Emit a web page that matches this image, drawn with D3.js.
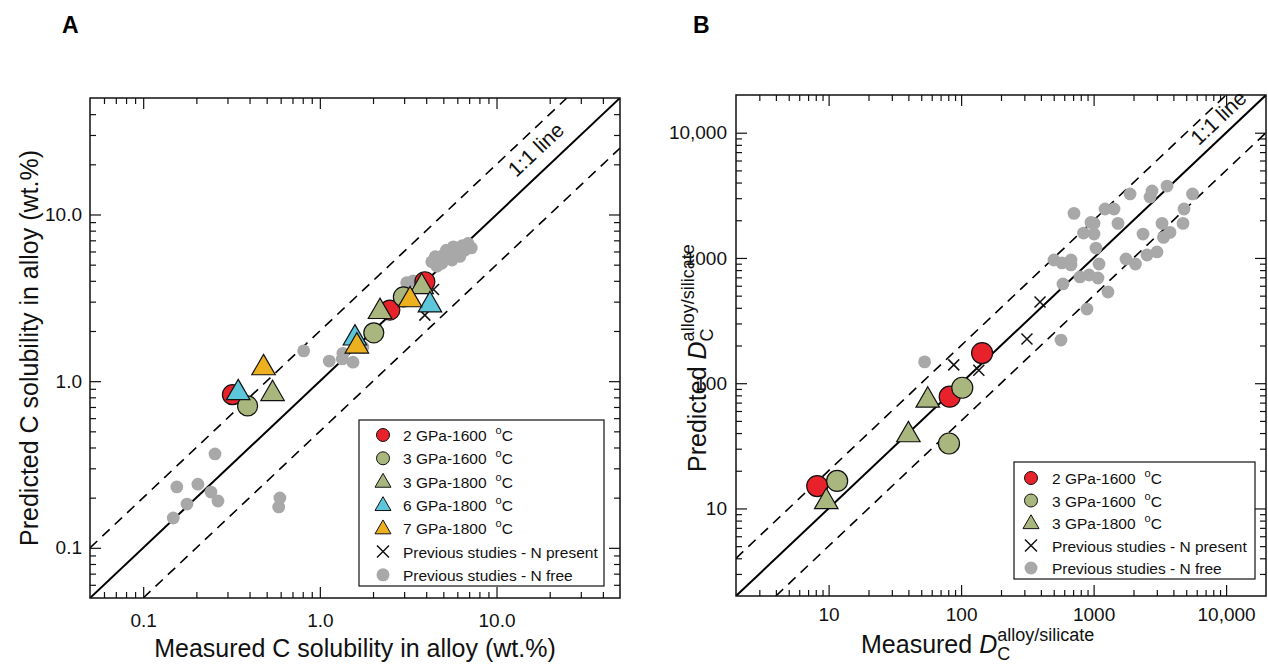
<!DOCTYPE html>
<html><head><meta charset="utf-8">
<script src="https://cdn.jsdelivr.net/npm/d3@7"></script>
<style>
body{margin:0;background:#fff;}
svg{display:block;font-family:"Liberation Sans",Arial,Helvetica,sans-serif;}
</style>
</head><body>
<svg id="chart" width="1268" height="671"></svg>
<script>
// ---------- Panel A: C solubility in alloy (wt.%) [measured, predicted] ----------
const aGpa2T1600 = [[0.32,0.83],[2.49,2.67],[3.93,3.95]];
const aGpa3T1600 = [[0.39,0.71],[2.02,1.95],[2.97,3.2]];
const aGpa3T1800 = [[0.54,0.84],[2.19,2.61],[3.77,3.68]];
const aGpa6T1800 = [[0.345,0.85],[1.58,1.81],[4.2,2.86]];
const aGpa7T1800 = [[0.48,1.2],[1.62,1.62],[3.24,3.07]];
const aPrevNPresent = [[3.93,2.49],[4.4,3.55]];
const aPrevNFree = [
  [0.255,0.366],[0.155,0.232],[0.204,0.241],[0.177,0.183],[0.242,0.216],[0.265,0.191],
  [0.148,0.151],[0.594,0.199],[0.585,0.176],
  [0.81,1.52],[1.13,1.32],[1.35,1.47],[1.34,1.36],[1.54,1.30],[1.75,1.6],
  [3.38,4.0],[3.1,3.9],[4.3,5.2],[4.5,5.58],[5.0,5.7],[5.7,6.4],[6.9,6.7],[7.2,6.3],
  [6.2,5.6],[5.6,5.33],[4.9,5.1],[6.6,6.1],[5.2,6.1],[4.6,4.9],[5.4,5.9],[6.4,6.5],[4.8,5.3]
];
const aTickValues = [0.1, 1, 10];
const aTickLabels = ["0.1", "1.0", "10.0"];
const aDomain = [0.05, 50];

// ---------- Panel B: D_C alloy/silicate [measured, predicted] ----------
const bGpa2T1600 = [[8.2,15.1],[82,78],[144,174]];
const bGpa3T1600 = [[11.6,16.6],[102,92],[81,33]];
const bGpa3T1800 = [[9.6,11.3],[40,38.6],[56,73]];
const bPrevNPresent = [[88,140],[136,127],[314,225],[394,445]];
const bPrevNFree = [
  [53,148],[567,221],[891,391],[711,2270],[502,963],[577,912],[675,963],[675,879],[587,620],
  [789,705],[923,731],[1079,692],[1099,895],[1042,1200],[839,1581],[1007,1552],[955,1923],
  [1007,1888],[1219,2460],[1426,2460],[1528,1888],[1284,535],[1755,981],[2070,895],[1884,3243],
  [2360,1552],[2530,1056],[3008,1117],[2666,3069],[2760,3428],[3581,3750],[3283,1888],[3367,1460],
  [3770,1600],[4728,1888],[4810,2460],[5575,3243]
];
const bTickValues = [10, 100, 1000, 10000];
const bTickLabels = ["10", "100", "1000", "10,000"];
const bDomain = [2, 20000];

// ---------- legends ----------
const aLegendLabels = ["2 GPa-1600", "3 GPa-1600", "3 GPa-1800", "6 GPa-1800", "7 GPa-1800",
  "Previous studies - N present", "Previous studies - N free"];
const bLegendLabels = ["2 GPa-1600", "3 GPa-1600", "3 GPa-1800",
  "Previous studies - N present", "Previous studies - N free"];

const COL = {red:"#E8222A", green:"#A9B77E", cyan:"#5DC6DA", orange:"#EDB01F", gray:"#A8A8A8"};

const svg = d3.select("#chart");

function triPath(s){ const h = s*Math.sqrt(3)/2; return `M0,${-2*h/3}L${s/2},${h/3}L${-s/2},${h/3}Z`; }
function xPath(s){ const a=s/2; return `M${-a},${-a}L${a},${a}M${-a},${a}L${a},${-a}`; }

function isMajor(v){ const l=Math.log10(v); return Math.abs(l-Math.round(l))<1e-6; }

function panel(o){
  const x = d3.scaleLog().domain(o.domain).range([o.left, o.right]);
  const y = d3.scaleLog().domain(o.domain).range([o.bottom, o.top]);
  const g = svg.append("g");
  const clipId = "clip"+o.id;
  g.append("clipPath").attr("id",clipId).append("rect")
    .attr("x",o.left).attr("y",o.top).attr("width",o.right-o.left).attr("height",o.bottom-o.top);

  const minors = x.ticks().filter(v=>!isMajor(v) && v>o.domain[0]*1.0001 && v<o.domain[1]*0.9999);
  const MAJ = 11, MIN = 6;
  function styleAxis(sel){
    sel.select(".domain").remove();
    sel.attr("font-size",null).attr("font-family",null);
    sel.selectAll("line").attr("stroke","#111").attr("stroke-width",1.2);
    sel.selectAll("text").attr("font-size",o.tickFont).attr("fill","#111");
  }
  const fmt = (d)=>o.labels[o.ticks.indexOf(d)];
  g.append("g").attr("transform",`translate(0,${o.bottom})`)
    .call(d3.axisBottom(x).tickValues(o.ticks).tickFormat(fmt).tickSize(-MAJ).tickPadding(o.xPad)).call(styleAxis);
  g.append("g").attr("transform",`translate(0,${o.bottom})`)
    .call(d3.axisBottom(x).tickValues(minors).tickFormat("").tickSize(-MIN)).call(styleAxis);
  g.append("g").attr("transform",`translate(0,${o.top})`)
    .call(d3.axisTop(x).tickValues(o.ticks).tickFormat("").tickSize(-MAJ)).call(styleAxis);
  g.append("g").attr("transform",`translate(0,${o.top})`)
    .call(d3.axisTop(x).tickValues(minors).tickFormat("").tickSize(-MIN)).call(styleAxis);
  g.append("g").attr("transform",`translate(${o.left},0)`)
    .call(d3.axisLeft(y).tickValues(o.ticks).tickFormat(fmt).tickSize(-MAJ).tickPadding(o.yPad)).call(styleAxis);
  g.append("g").attr("transform",`translate(${o.left},0)`)
    .call(d3.axisLeft(y).tickValues(minors).tickFormat("").tickSize(-MIN)).call(styleAxis);
  g.append("g").attr("transform",`translate(${o.right},0)`)
    .call(d3.axisRight(y).tickValues(o.ticks).tickFormat("").tickSize(-MAJ)).call(styleAxis);
  g.append("g").attr("transform",`translate(${o.right},0)`)
    .call(d3.axisRight(y).tickValues(minors).tickFormat("").tickSize(-MIN)).call(styleAxis);

  const [d0,d1] = o.domain;
  const lines = g.append("g").attr("clip-path",`url(#${clipId})`);
  const ln = d3.line().x(d=>x(d[0])).y(d=>y(d[1]));
  lines.append("path").attr("d",ln([[d0,d0],[d1,d1]])).attr("stroke","#000").attr("stroke-width",2).attr("fill","none");
  lines.append("path").attr("d",ln([[d0,2*d0],[d1/2,d1]])).attr("stroke","#000").attr("stroke-width",1.6)
    .attr("stroke-dasharray","10,7").attr("fill","none");
  lines.append("path").attr("d",ln([[2*d0,d0],[d1,d1/2]])).attr("stroke","#000").attr("stroke-width",1.6)
    .attr("stroke-dasharray","10,7").attr("fill","none");

  const ang = Math.atan2(y(o.labelAt)-y(o.labelAt/10), x(o.labelAt)-x(o.labelAt/10))*180/Math.PI;
  g.append("text").attr("transform",`translate(${x(o.labelAt)},${y(o.labelAt)}) rotate(${ang})`)
    .attr("text-anchor","middle").attr("dy",o.labelDy).attr("font-size",21).attr("fill","#111").text("1:1 line");

  g.append("rect").attr("x",o.left).attr("y",o.top).attr("width",o.right-o.left).attr("height",o.bottom-o.top)
    .attr("fill","none").attr("stroke","#111").attr("stroke-width",1.5);

  const pts = g.append("g").attr("clip-path",`url(#${clipId})`);
  pts.selectAll(".gray").data(o.nfree).join("circle").attr("cx",d=>x(d[0])).attr("cy",d=>y(d[1]))
    .attr("r",6.4).attr("fill",COL.gray);
  pts.selectAll(".xm").data(o.npres).join("path").attr("transform",d=>`translate(${x(d[0])},${y(d[1])})`)
    .attr("d",xPath(11)).attr("stroke","#111").attr("stroke-width",1.5).attr("fill","none");
  o.series.forEach(s=>{
    pts.append("g").selectAll("path").data(s.data).join("path")
      .attr("transform",d=>`translate(${x(d[0])},${y(d[1])})`)
      .attr("d", s.shape==="circle" ? d3.symbol(d3.symbolCircle, Math.PI*o.r*o.r)() : triPath(o.tri))
      .attr("fill",s.color).attr("stroke","#111").attr("stroke-width",1.2);
  });
  return {x,y,g};
}

const A = panel({id:"A", domain:aDomain, left:90, right:620, top:98, bottom:598,
  ticks:aTickValues, labels:aTickLabels, tickFont:19, xPad:16, yPad:8, labelAt:20, labelDy:-13, r:10, tri:23.5,
  nfree:aPrevNFree, npres:aPrevNPresent,
  series:[
    {data:aGpa2T1600, color:COL.red, shape:"circle"},
    {data:aGpa3T1600, color:COL.green, shape:"circle"},
    {data:aGpa3T1800, color:COL.green, shape:"tri"},
    {data:aGpa6T1800, color:COL.cyan, shape:"tri"},
    {data:aGpa7T1800, color:COL.orange, shape:"tri"}
  ]});

const B = panel({id:"B", domain:bDomain, left:736, right:1266, top:95, bottom:596,
  ticks:bTickValues, labels:bTickLabels, tickFont:19, xPad:12, yPad:9, labelAt:10600, labelDy:-9, r:10.5, tri:23.5,
  nfree:bPrevNFree, npres:bPrevNPresent,
  series:[
    {data:bGpa2T1600, color:COL.red, shape:"circle"},
    {data:bGpa3T1600, color:COL.green, shape:"circle"},
    {data:bGpa3T1800, color:COL.green, shape:"tri"}
  ]});

function legend(o){
  const g = svg.append("g");
  g.append("rect").attr("x",o.x0).attr("y",o.y0).attr("width",o.x1-o.x0).attr("height",o.y1-o.y0)
    .attr("fill","#fff").attr("stroke","#111").attr("stroke-width",1.2);
  o.labels.forEach((lab,i)=>{
    const yy = o.firstY + i*o.step;
    const it = o.items[i];
    if(it.shape==="circle") g.append("circle").attr("cx",o.sx).attr("cy",yy).attr("r",6.5).attr("fill",it.color).attr("stroke","#111").attr("stroke-width",1);
    else if(it.shape==="tri") g.append("path").attr("transform",`translate(${o.sx},${yy+1})`).attr("d",triPath(16)).attr("fill",it.color).attr("stroke","#111").attr("stroke-width",1);
    else if(it.shape==="x") g.append("path").attr("transform",`translate(${o.sx},${yy})`).attr("d",xPath(12)).attr("stroke","#111").attr("stroke-width",1.5);
    else g.append("circle").attr("cx",o.sx).attr("cy",yy).attr("r",6.5).attr("fill",COL.gray);
    const t = g.append("text").attr("x",o.tx).attr("y",yy+6).attr("font-size",15.5).attr("fill","#111");
    t.append("tspan").text(lab);
    if(it.deg){
      t.append("tspan").attr("dx",9).attr("dy",-7).attr("font-size",11).text("o");
      t.append("tspan").attr("dy",7).text("C");
    }
  });
}
legend({x0:359,y0:420,x1:604,y1:586,firstY:435,step:23.3,sx:383,tx:403,labels:aLegendLabels,
  items:[{shape:"circle",color:COL.red,deg:1},{shape:"circle",color:COL.green,deg:1},{shape:"tri",color:COL.green,deg:1},
         {shape:"tri",color:COL.cyan,deg:1},{shape:"tri",color:COL.orange,deg:1},{shape:"x"},{shape:"gray"}]});
legend({x0:1014,y0:462,x1:1255,y1:579,firstY:478,step:22.5,sx:1031,tx:1052,labels:bLegendLabels,
  items:[{shape:"circle",color:COL.red,deg:1},{shape:"circle",color:COL.green,deg:1},{shape:"tri",color:COL.green,deg:1},
         {shape:"x"},{shape:"gray"}]});

svg.append("text").attr("x",62).attr("y",33).attr("font-size",23).attr("font-weight","bold").text("A");
svg.append("text").attr("x",693).attr("y",33).attr("font-size",23).attr("font-weight","bold").text("B");

svg.append("text").attr("x",355).attr("y",657).attr("text-anchor","middle").attr("font-size",25).attr("fill","#111")
  .text("Measured C solubility in alloy (wt.%)");
svg.append("text").attr("transform","translate(38,348) rotate(-90)").attr("text-anchor","middle").attr("font-size",25).attr("fill","#111")
  .text("Predicted C solubility in alloy (wt.%)");

function dTitle(sel, word){
  sel.append("tspan").text(word+" ");
  sel.append("tspan").attr("font-style","italic").text("D");
  sel.append("tspan").attr("font-size",18).attr("dy",7).text("C");
  sel.append("tspan").attr("font-size",18).attr("dx",-13).attr("dy",-19).text("alloy/silicate");
}
dTitle(svg.append("text").attr("x",861).attr("y",653).attr("font-size",25).attr("fill","#111"), "Measured");
dTitle(svg.append("text").attr("transform","translate(706,472) rotate(-90)").attr("font-size",25).attr("fill","#111"), "Predicted");
</script>
</body></html>
